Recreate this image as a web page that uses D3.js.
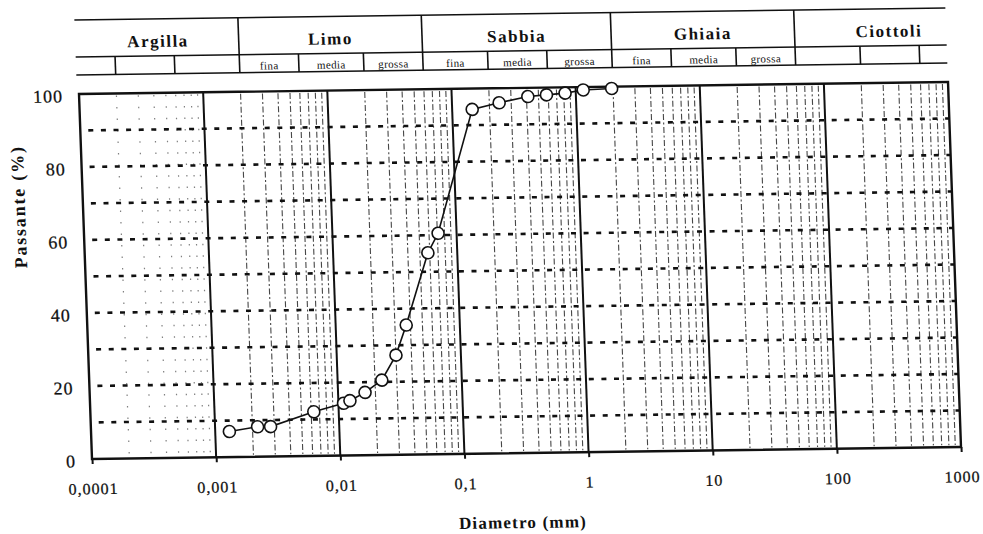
<!DOCTYPE html>
<html>
<head>
<meta charset="utf-8">
<script src="https://cdn.jsdelivr.net/npm/d3@7"></script>
<style>
  html, body { margin: 0; padding: 0; background: #fff; }
  svg { display: block; }
</style>
</head>
<body>
<svg id="chart" width="983" height="534"></svg>
<script>
// Curva granulometrica: passante cumulativo (%) in funzione del diametro (mm)
const diametri = [0.0013, 0.0022, 0.0028, 0.0063, 0.011, 0.0124, 0.0165, 0.0227, 0.030, 0.037,
                  0.058, 0.071, 0.145, 0.24, 0.41, 0.58, 0.82, 1.15, 1.95];
const passante = [7.0, 8.2, 8.2, 12.1, 14.3, 15.0, 17.2, 20.5, 27.3, 35.5,
                  55.2, 60.5, 94.3, 96.0, 97.6, 98.0, 98.4, 99.2, 99.5];

const xTicks = [0.0001, 0.001, 0.01, 0.1, 1, 10, 100, 1000];
const xTickLabels = ["0,0001", "0,001", "0,01", "0,1", "1", "10", "100", "1000"];
const yTicks = [0, 20, 40, 60, 80, 100];
const yGrid = [10, 20, 30, 40, 50, 60, 70, 80, 90];

// Classi granulometriche e relativi limiti (mm)
const classi = ["Argilla", "Limo", "Sabbia", "Ghiaia", "Ciottoli"];
const limitiClassi = [[0.0001, 0.002], [0.002, 0.06], [0.06, 2], [2, 60], [60, 2000]];
const sottoclassi = ["fina", "media", "grossa"];
const limitiSottoclassi = [
  [0.0001, 0.0002, 0.0006, 0.002],
  [0.002, 0.006, 0.02, 0.06],
  [0.06, 0.2, 0.6, 2],
  [2, 6, 20, 60],
  [60, 200, 600, 2000]
];
const sottoEtichette = [[], sottoclassi, sottoclassi, sottoclassi, []];

const W = 869, H = 365;
const FONT = "'Liberation Serif', 'Times New Roman', serif";
const INK = "#111";

const svg = d3.select("#chart");
svg.append("rect").attr("width", 983).attr("height", 534).attr("fill", "#fff");

const x = d3.scaleLog().domain([0.0001, 1000]).range([0, W]);
const y = d3.scaleLinear().domain([0, 100]).range([H, 0]);
const xmin = x.domain()[0], xmax = x.domain()[1];
const clampX = v => x(Math.max(xmin, Math.min(xmax, v)));

// the printed sheet sits slightly askew on the page
const g = svg.append("g")
  .attr("transform", `matrix(1,${-12 / 869},${13 / 365},1,79,94)`);

// ---------- header with soil classes ----------
const head = g.append("g").attr("class", "header");
const hTop = -74, hMid = -37, hBot = -19;
[hTop, hMid, hBot].forEach(hy => {
  head.append("line")
    .attr("x1", -2).attr("x2", W).attr("y1", hy).attr("y2", hy)
    .attr("stroke", INK).attr("stroke-width", 1.6);
});
// main class separators
limitiClassi.slice(1).forEach(([lo]) => {
  head.append("line")
    .attr("x1", x(lo)).attr("x2", x(lo)).attr("y1", hTop).attr("y2", hBot)
    .attr("stroke", INK).attr("stroke-width", 1.6);
});
// sub-class separators
limitiSottoclassi.forEach(lims => {
  lims.slice(1, -1).forEach(v => {
    if (v < xmin || v > xmax) return;
    head.append("line")
      .attr("x1", x(v)).attr("x2", x(v)).attr("y1", hMid).attr("y2", hBot)
      .attr("stroke", INK).attr("stroke-width", 1.6);
  });
});
// class names
classi.forEach((name, i) => {
  const [lo, hi] = limitiClassi[i];
  head.append("text")
    .attr("x", clampX(Math.sqrt(lo * hi))).attr("y", -46)
    .attr("text-anchor", "middle")
    .attr("font-family", FONT).attr("font-weight", "bold")
    .attr("font-size", 17).attr("letter-spacing", 1.5)
    .attr("fill", INK).text(name);
});
// sub-class names
limitiSottoclassi.forEach((lims, i) => {
  sottoEtichette[i].forEach((lab, j) => {
    const cx = Math.sqrt(lims[j] * lims[j + 1]);
    head.append("text")
      .attr("x", x(cx)).attr("y", -22)
      .attr("text-anchor", "middle")
      .attr("font-family", FONT).attr("font-size", 11)
      .attr("letter-spacing", 0.4)
      .attr("fill", INK).text(lab);
  });
});

// ---------- grid ----------
const grid = g.append("g").attr("class", "grid");
// minor vertical lines (2..9 in each decade)
const minori = [];
for (let k = -4; k <= 2; k++) {
  for (let m = 2; m <= 9; m++) minori.push({ v: m * Math.pow(10, k), k });
}
grid.selectAll("line.minor").data(minori).join("line")
  .attr("class", "minor")
  .attr("x1", d => x(d.v)).attr("x2", d => x(d.v))
  .attr("y1", 2).attr("y2", H - 2)
  .attr("stroke", "#1a1a1a")
  .attr("stroke-width", d => d.k === -4 ? 1.2 : 1.1)
  .attr("stroke-dasharray", d => d.k === -4 ? "1.5,10" : "6,2.5,2,2.5")
  .attr("opacity", d => d.k === -4 ? 0.55 : 0.8);

// dotted horizontal lines every 10 %
grid.selectAll("line.hgrid").data(yGrid).join("line")
  .attr("class", "hgrid")
  .attr("x1", 0).attr("x2", W)
  .attr("y1", d => y(d)).attr("y2", d => y(d))
  .attr("stroke", INK).attr("stroke-width", 2.6)
  .attr("stroke-dasharray", "5,7.6").attr("stroke-dashoffset", -8);

// decade lines
grid.selectAll("line.decade").data(xTicks.slice(1, -1)).join("line")
  .attr("class", "decade")
  .attr("x1", d => x(d)).attr("x2", d => x(d))
  .attr("y1", 0).attr("y2", H)
  .attr("stroke", INK).attr("stroke-width", 2);

// frame
g.append("rect")
  .attr("x", 0).attr("y", 0).attr("width", W).attr("height", H)
  .attr("fill", "none").attr("stroke", INK).attr("stroke-width", 2.4);

// ---------- axes ----------
const xAxis = g.append("g")
  .attr("transform", `translate(0,${H})`)
  .call(d3.axisBottom(x).tickValues(xTicks)
    .tickFormat((d, i) => xTickLabels[i]).tickSize(5).tickPadding(19));
xAxis.select(".domain").remove();
xAxis.selectAll(".tick line").attr("stroke", INK).attr("stroke-width", 2);
xAxis.selectAll(".tick text")
  .attr("font-family", FONT).attr("font-size", 16)
  .attr("letter-spacing", 1).attr("fill", INK)
  .attr("stroke", INK).attr("stroke-width", 0.25);

const yAxis = g.append("g")
  .call(d3.axisLeft(y).tickValues(yTicks).tickSize(0).tickPadding(16));
yAxis.select(".domain").remove();
yAxis.selectAll(".tick text")
  .attr("font-family", FONT).attr("font-size", 18)
  .attr("letter-spacing", 1).attr("dy", "0.42em").attr("fill", INK)
  .attr("stroke", INK).attr("stroke-width", 0.25);

g.append("text")
  .attr("x", W / 2 - 6).attr("y", H + 75)
  .attr("text-anchor", "middle")
  .attr("font-family", FONT).attr("font-weight", "bold")
  .attr("font-size", 17).attr("letter-spacing", 1.2)
  .attr("fill", INK).text("Diametro (mm)");

g.append("text")
  .attr("transform", `translate(-58,112) rotate(-90)`)
  .attr("text-anchor", "middle")
  .attr("font-family", FONT).attr("font-weight", "bold")
  .attr("font-size", 18).attr("letter-spacing", 1.8)
  .attr("fill", INK).text("Passante (%)");

// ---------- grading curve ----------
const punti = diametri.map((d, i) => ({ d, p: passante[i] }));
g.append("path")
  .datum(punti)
  .attr("fill", "none").attr("stroke", INK).attr("stroke-width", 1.6)
  .attr("d", d3.line().x(d => x(d.d)).y(d => y(d.p)));

g.selectAll("circle.pt").data(punti).join("circle")
  .attr("class", "pt")
  .attr("cx", d => x(d.d)).attr("cy", d => y(d.p)).attr("r", 6)
  .attr("fill", "#fff").attr("stroke", INK).attr("stroke-width", 1.6);
</script>
</body>
</html>
